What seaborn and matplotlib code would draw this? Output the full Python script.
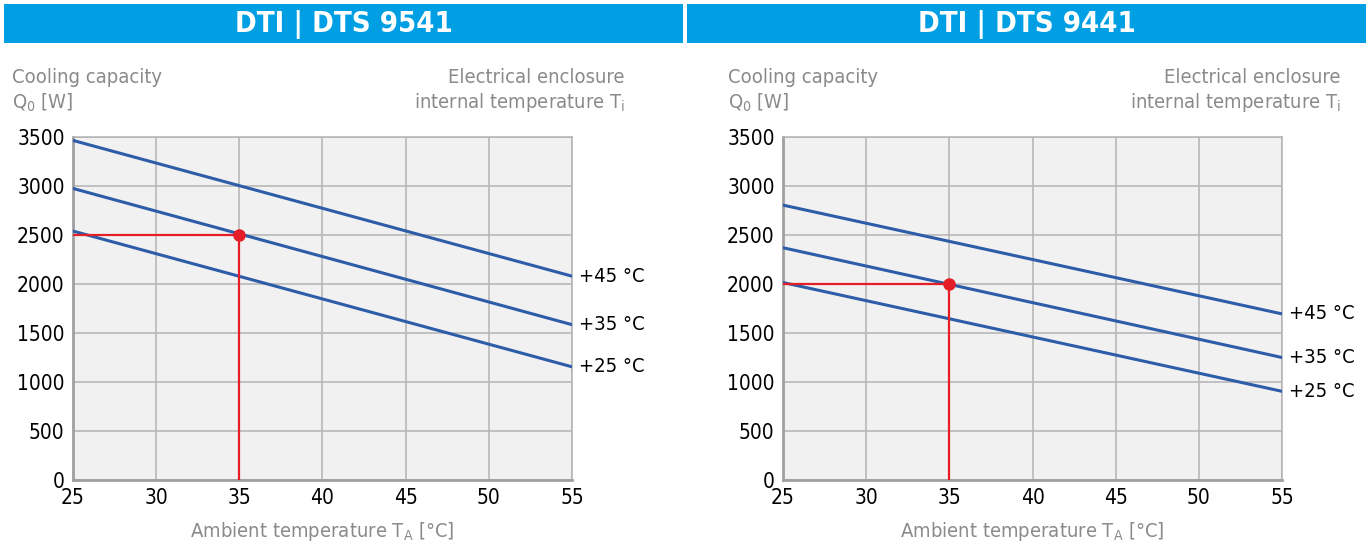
import matplotlib
matplotlib.use("Agg")
import matplotlib.pyplot as plt
import seaborn as sns
import pandas as pd
from matplotlib import font_manager

# ------------------------------
# data
# ------------------------------
ambient = [25, 55]
internal_labels = ["+45 °C", "+35 °C", "+25 °C"]

dts9541_q45 = [3465, 2080]
dts9541_q35 = [2975, 1585]
dts9541_q25 = [2540, 1155]
dts9541_point = (35, 2500)

dts9441_q45 = [2805, 1695]
dts9441_q35 = [2370, 1250]
dts9441_q25 = [2015, 905]
dts9441_point = (35, 2000)

titles = ["DTI | DTS 9541", "DTI | DTS 9441"]
x_ticks = [25, 30, 35, 40, 45, 50, 55]
y_ticks = [0, 500, 1000, 1500, 2000, 2500, 3000, 3500]

sns.set_theme(style="white")

# look for a narrow face (the original uses a condensed grotesk)
narrow = [f for f in font_manager.fontManager.ttflist
          if ("Condensed" in f.fname or "Narrow" in f.fname or "Narrow" in f.name)
          and "Oblique" not in f.fname and "Italic" not in f.fname]
if narrow:
    fam = narrow[0].name
    stretch = narrow[0].stretch
else:
    fam = "Roboto"
    stretch = "normal"
plt.rcParams["font.family"] = [fam, "DejaVu Sans"]
plt.rcParams["font.stretch"] = stretch
plt.rcParams["mathtext.fontset"] = "custom"
plt.rcParams["mathtext.rm"] = fam
plt.rcParams["mathtext.it"] = fam

BLUE = "#2d5ca8"
RED = "#e41e26"
GREY_TXT = "#8a8a8a"
W, H = 1370, 546

fig = plt.figure(figsize=(13.7, 5.46), dpi=100)

panels = [
    (titles[0], [dts9541_q45, dts9541_q35, dts9541_q25], dts9541_point,
     (4, 683), (73, 572), (12, 625)),
    (titles[1], [dts9441_q45, dts9441_q35, dts9441_q25], dts9441_point,
     (687, 1366), (783, 1282), (728, 1341)),
]

for title, series, point, bar_x, ax_x, head_x in panels:
    # title bar
    bax = fig.add_axes([bar_x[0] / W, 1 - 43 / H, (bar_x[1] - bar_x[0]) / W, 39 / H])
    bax.set_facecolor("#009fe3")
    bax.set_xticks([])
    bax.set_yticks([])
    for s in bax.spines.values():
        s.set_visible(False)
    bax.text(0.5, 0.47, title, color="white", fontsize=21, fontweight="bold",
             ha="center", va="center", transform=bax.transAxes)

    ax = fig.add_axes([ax_x[0] / W, 1 - 480 / H, (ax_x[1] - ax_x[0]) / W, 343 / H])
    ax.set_facecolor("#f1f1f1")

    rows = []
    for lab, vals in zip(internal_labels, series):
        for x, y in zip(ambient, vals):
            rows.append({"TA": x, "Q0": y, "Ti": lab})
    df = pd.DataFrame(rows)
    sns.lineplot(data=df, x="TA", y="Q0", hue="Ti", palette=[BLUE] * 3,
                 linewidth=2.2, legend=False, ax=ax, zorder=3)

    for lab, vals in zip(internal_labels, series):
        ax.annotate(lab, xy=(ambient[-1], vals[-1]), xytext=(5, 0),
                    textcoords="offset points", ha="left", va="center",
                    fontsize=14.5, color="black", annotation_clip=False)

    px, py = point
    ax.plot([ambient[0], px], [py, py], color=RED, linewidth=1.6, zorder=4)
    ax.plot([px, px], [0, py], color=RED, linewidth=1.6, zorder=4)
    ax.plot([px], [py], "o", color=RED, markersize=8, zorder=5)

    ax.set_xlim(25, 55)
    ax.set_ylim(0, 3500)
    ax.set_xticks(x_ticks)
    ax.set_yticks(y_ticks)
    ax.grid(True, color="#b3b3b3", linewidth=1.1)
    ax.set_axisbelow(True)
    ax.tick_params(axis="both", length=0, labelsize=15, colors="black")
    ax.tick_params(axis="x", pad=5.5)
    ax.tick_params(axis="y", pad=6)
    for side in ["top", "right"]:
        ax.spines[side].set_color("#b3b3b3")
        ax.spines[side].set_linewidth(1.1)
    for side in ["left", "bottom"]:
        ax.spines[side].set_color("#a0a0a0")
        ax.spines[side].set_linewidth(2)
    ax.set_xlabel("Ambient temperature T$_\\mathrm{A}$ [°C]", fontsize=14.5,
                  color=GREY_TXT, labelpad=9)
    ax.set_ylabel("")

    fig.text(head_x[0] / W, 1 - 78 / H, "Cooling capacity",
             fontsize=14.5, color=GREY_TXT, ha="left", va="center")
    fig.text(head_x[0] / W, 1 - 103 / H, "Q$_\\mathrm{0}$ [W]",
             fontsize=14.5, color=GREY_TXT, ha="left", va="center")
    fig.text(head_x[1] / W, 1 - 78 / H, "Electrical enclosure",
             fontsize=14.5, color=GREY_TXT, ha="right", va="center")
    fig.text(head_x[1] / W, 1 - 103 / H, "internal temperature T$_\\mathrm{i}$",
             fontsize=14.5, color=GREY_TXT, ha="right", va="center")

plt.savefig("out.png", dpi=100)
